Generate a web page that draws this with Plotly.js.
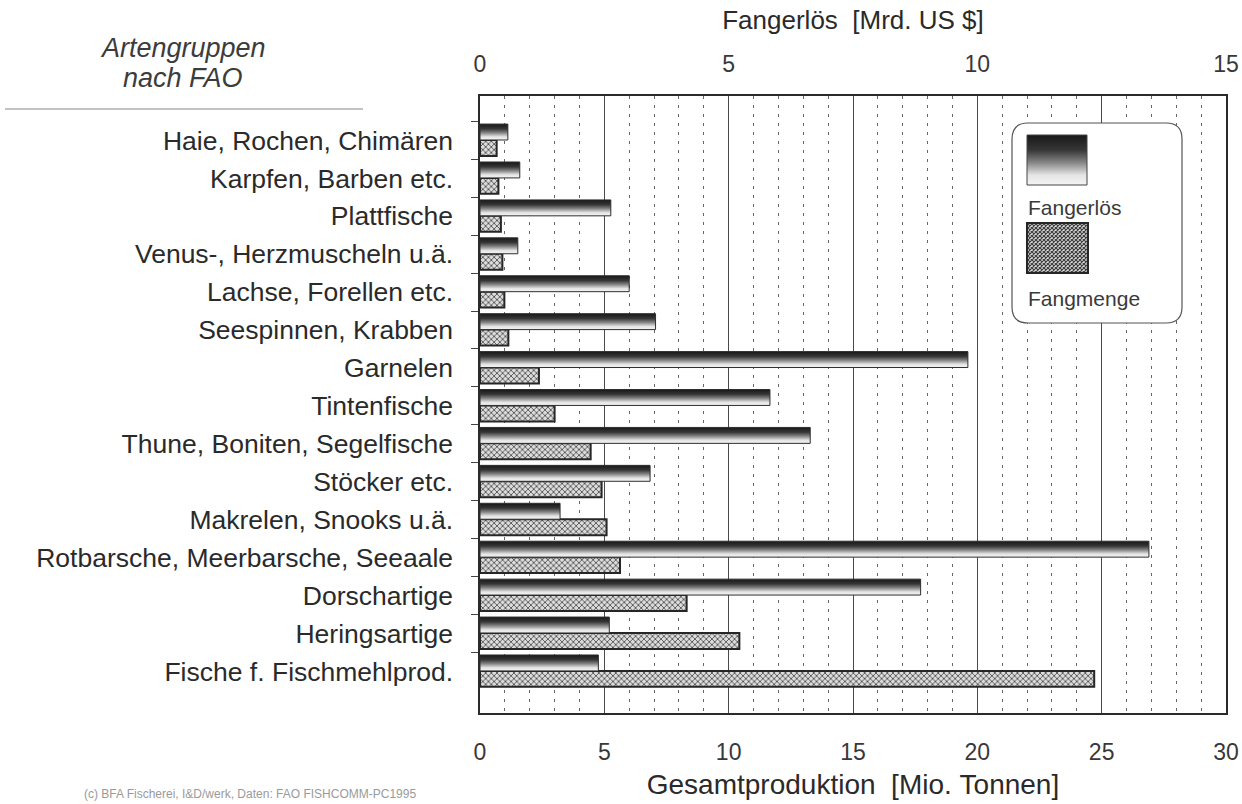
<!DOCTYPE html>
<html>
<head>
<meta charset="utf-8">
<script src="https://cdn.plot.ly/plotly-3.0.1.min.js"></script>
<style>
  html, body { margin: 0; padding: 0; background: #ffffff; }
  #chart { width: 1242px; height: 804px; }
</style>
</head>
<body>
<div id="chart"></div>
<script>
// ---- Data ----
const categories = [
  'Haie, Rochen, Chimären',
  'Karpfen, Barben etc.',
  'Plattfische',
  'Venus-, Herzmuscheln u.ä.',
  'Lachse, Forellen etc.',
  'Seespinnen, Krabben',
  'Garnelen',
  'Tintenfische',
  'Thune, Boniten, Segelfische',
  'Stöcker etc.',
  'Makrelen, Snooks u.ä.',
  'Rotbarsche, Meerbarsche, Seeaale',
  'Dorschartige',
  'Heringsartige',
  'Fische f. Fischmehlprod.'
];
// Fangerlös [Mrd. US $] (top axis)
const fangerloes = [0.56, 0.80, 2.63, 0.76, 3.00, 3.53, 9.81, 5.83, 6.64, 3.42, 1.61, 13.45, 8.86, 2.60, 2.38];
// Fangmenge / Gesamtproduktion [Mio. Tonnen] (bottom axis)
const fangmenge = [0.67, 0.74, 0.84, 0.90, 0.98, 1.14, 2.37, 3.00, 4.45, 4.89, 5.09, 5.63, 8.31, 10.43, 24.70];

const bottomTicks = [0, 5, 10, 15, 20, 25, 30];
const topTicks = [0, 5, 10, 15];

const FONT = 'Liberation Sans, Arial, Helvetica, sans-serif';
const NB = '\u00a0';

const traces = [
  {
    type: 'bar', orientation: 'h', name: 'Fangerlös',
    y: categories, x: fangerloes,
    xaxis: 'x2', yaxis: 'y',
    offset: -0.43, width: 0.42,
    marker: { color: '#777777', line: { color: '#2e2e2e', width: 1 } },
    hoverinfo: 'x+y'
  },
  {
    type: 'bar', orientation: 'h', name: 'Fangmenge',
    y: categories, x: fangmenge,
    xaxis: 'x', yaxis: 'y',
    offset: -0.01, width: 0.42,
    marker: {
      color: '#bbbbbb',
      line: { color: '#262626', width: 2 },
      pattern: { shape: 'x', size: 4, solidity: 0.35, fgcolor: '#3c3c3c', bgcolor: '#dcdcdc' }
    },
    hoverinfo: 'x+y'
  }
];

// helpers to express legend geometry in paper units (plot area: x 480..1226, y 96..713)
const PL = 480, PR = 1226, PT = 96, PB = 713;
const px = v => (v - PL) / (PR - PL);
const py = v => (PB - v) / (PB - PT);

function roundedRectPath(x0, y0, x1, y1, r) {
  const rx = r / (PR - PL), ry = r / (PB - PT);
  const X0 = px(x0), X1 = px(x1), Y0 = py(y1), Y1 = py(y0); // Y0 bottom, Y1 top
  return `M ${X0 + rx} ${Y1} L ${X1 - rx} ${Y1} Q ${X1} ${Y1} ${X1} ${Y1 - ry} ` +
         `L ${X1} ${Y0 + ry} Q ${X1} ${Y0} ${X1 - rx} ${Y0} ` +
         `L ${X0 + rx} ${Y0} Q ${X0} ${Y0} ${X0} ${Y0 + ry} ` +
         `L ${X0} ${Y1 - ry} Q ${X0} ${Y1} ${X0 + rx} ${Y1} Z`;
}

const layout = {
  width: 1242, height: 804,
  margin: { l: PL, r: 1242 - PR, t: PT, b: 804 - PB, pad: 0 },
  paper_bgcolor: '#ffffff', plot_bgcolor: '#ffffff',
  showlegend: false,
  font: { family: FONT, color: '#2a2a2a' },
  xaxis: {
    range: [0, 30], tickmode: 'array', tickvals: bottomTicks,
    ticks: '', ticklabelstandoff: 18,
    tickfont: { family: FONT, size: 23, color: '#383838' },
    showgrid: true, gridcolor: '#4a4a4a', gridwidth: 1,
    minor: { dtick: 1, showgrid: true, gridcolor: '#666666', gridwidth: 1, griddash: '3px,6px' },
    showline: true, linecolor: '#2a2a2a', linewidth: 1.6, mirror: true,
    zeroline: false, fixedrange: true,
    title: { text: 'Gesamtproduktion' + NB + NB + '[Mio.' + NB + 'Tonnen]', font: { family: FONT, size: 28, color: '#2a2a2a' }, standoff: 10 }
  },
  xaxis2: {
    overlaying: 'x', side: 'top', anchor: 'y',
    range: [0, 15], tickmode: 'array', tickvals: topTicks,
    ticks: '', ticklabelstandoff: 18,
    tickfont: { family: FONT, size: 23, color: '#383838' },
    showgrid: false, showline: false, zeroline: false, fixedrange: true,
    title: { text: 'Fangerlös' + NB + NB + '[Mrd. US $]', font: { family: FONT, size: 26, color: '#2a2a2a' }, standoff: 14 }
  },
  yaxis: {
    type: 'category', range: [15.1, -1.17],
    showline: true, linecolor: '#2a2a2a', linewidth: 1.6, mirror: true,
    ticks: 'outside', tickson: 'boundaries', ticklen: 7, tickcolor: '#444444', tickwidth: 1,
    ticklabelstandoff: 20,
    tickfont: { family: FONT, size: 26.5, color: '#2a2a2a' },
    showgrid: false, zeroline: false, fixedrange: true
  },
  shapes: [
    // legend frame (rounded)
    { type: 'path', xref: 'paper', yref: 'paper', path: roundedRectPath(1012, 123, 1182, 323, 16),
      fillcolor: '#ffffff', line: { color: '#555555', width: 1.2 }, layer: 'above' },
    // legend swatch: Fangerlös (gradient applied after render)
    { type: 'rect', xref: 'paper', yref: 'paper', x0: px(1027), x1: px(1087), y0: py(185), y1: py(135),
      fillcolor: '#777777', line: { color: '#444444', width: 1 }, layer: 'above' },
    // legend swatch: Fangmenge (pattern applied after render)
    { type: 'rect', xref: 'paper', yref: 'paper', x0: px(1027), x1: px(1088), y0: py(273), y1: py(223),
      fillcolor: '#bbbbbb', line: { color: '#262626', width: 2 }, layer: 'above' },
    // rule under the category heading
    { type: 'line', xref: 'paper', yref: 'paper', x0: px(5), x1: px(363), y0: py(109), y1: py(109),
      line: { color: '#888888', width: 1.2 } }
  ],
  annotations: [
    { xref: 'paper', yref: 'paper', x: px(1026), y: py(208), xanchor: 'left', yanchor: 'middle',
      text: 'Fangerlös', showarrow: false, font: { family: FONT, size: 21, color: '#3a3a3a' } },
    { xref: 'paper', yref: 'paper', x: px(1026), y: py(298), xanchor: 'left', yanchor: 'middle',
      text: 'Fangmenge', showarrow: false, font: { family: FONT, size: 21, color: '#3a3a3a' } },
    { xref: 'paper', yref: 'paper', x: px(183), y: py(48), xanchor: 'center', yanchor: 'middle',
      text: 'Artengruppen', showarrow: false, font: { family: FONT, size: 27, color: '#3c3c3c', style: 'italic' } },
    { xref: 'paper', yref: 'paper', x: px(183), y: py(78), xanchor: 'center', yanchor: 'middle',
      text: 'nach FAO', showarrow: false, font: { family: FONT, size: 27, color: '#3c3c3c', style: 'italic' } },
    { xref: 'paper', yref: 'paper', x: px(82), y: py(794), xanchor: 'left', yanchor: 'middle',
      text: '(c) BFA Fischerei, I&amp;D/werk, Daten: FAO FISHCOMM-PC1995', showarrow: false,
      font: { family: FONT, size: 12, color: '#9a9a9a' } }
  ]
};

Plotly.newPlot('chart', traces, layout, { staticPlot: true, displayModeBar: false }).then(gd => {
  const svgNS = 'http://www.w3.org/2000/svg';
  const svg = gd.querySelector('svg.main-svg');
  let defs = svg.querySelector('defs');
  if (!defs) { defs = document.createElementNS(svgNS, 'defs'); svg.insertBefore(defs, svg.firstChild); }

  // vertical gradient: dark at the top, light at the bottom
  const grad = document.createElementNS(svgNS, 'linearGradient');
  grad.setAttribute('id', 'feGrad');
  grad.setAttribute('x1', '0'); grad.setAttribute('y1', '0');
  grad.setAttribute('x2', '0'); grad.setAttribute('y2', '1');
  [['0', '#181818'], ['0.3', '#363636'], ['0.55', '#858585'], ['0.8', '#e4e4e4'], ['1', '#f4f4f4']].forEach(([o, c]) => {
    const s = document.createElementNS(svgNS, 'stop');
    s.setAttribute('offset', o); s.setAttribute('stop-color', c);
    grad.appendChild(s);
  });
  defs.appendChild(grad);

  // halftone-like pattern for the legend swatch
  const pat = document.createElementNS(svgNS, 'pattern');
  pat.setAttribute('id', 'fmPat');
  pat.setAttribute('patternUnits', 'userSpaceOnUse');
  pat.setAttribute('width', '4'); pat.setAttribute('height', '4');
  const bg = document.createElementNS(svgNS, 'rect');
  bg.setAttribute('width', '4'); bg.setAttribute('height', '4'); bg.setAttribute('fill', '#dcdcdc');
  pat.appendChild(bg);
  const p1 = document.createElementNS(svgNS, 'path');
  p1.setAttribute('d', 'M0,0 L4,4 M4,0 L0,4');
  p1.setAttribute('stroke', '#3c3c3c'); p1.setAttribute('stroke-width', '1.2');
  pat.appendChild(p1);
  defs.appendChild(pat);

  // apply gradient to the Fangerlös bars
  gd.querySelectorAll('.barlayer .trace').forEach(tr => {
    const cd = tr.__data__;
    if (cd && cd[0] && cd[0].trace && cd[0].trace.name === 'Fangerlös') {
      tr.querySelectorAll('.point path').forEach(p => { p.style.fill = 'url(#feGrad)'; p.style.fillOpacity = 1; });
    }
  });

  // legend swatches
  const s1 = gd.querySelector('.shapelayer path[data-index="1"]');
  if (s1) { s1.style.fill = 'url(#feGrad)'; s1.style.fillOpacity = 1; }
  const s2 = gd.querySelector('.shapelayer path[data-index="2"]');
  if (s2) { s2.style.fill = 'url(#fmPat)'; s2.style.fillOpacity = 1; }
});
</script>
</body>
</html>
